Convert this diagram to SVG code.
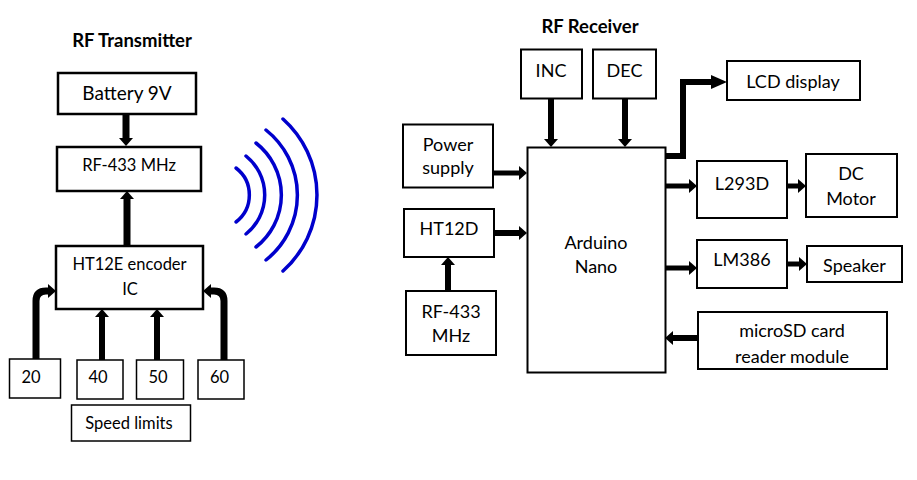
<svg xmlns="http://www.w3.org/2000/svg" width="917" height="480" viewBox="0 0 917 480">
<defs>
<marker id="ah" markerUnits="userSpaceOnUse" viewBox="0 0 8 14" markerWidth="8" markerHeight="14" refX="0" refY="7" orient="auto">
<path d="M0,0 L8,7 L0,14 z" fill="#000"/>
</marker>
<marker id="ahL" markerUnits="userSpaceOnUse" viewBox="0 0 16 14" markerWidth="16" markerHeight="14" refX="0" refY="7" orient="auto">
<path d="M0,0 L16,7 L0,14 z" fill="#000"/>
</marker>
<style>
.box{fill:#fff;stroke:#000;stroke-width:2}
.thin{fill:#fff;stroke:#000;stroke-width:1.5}
.t{font-family:Lato,"Liberation Sans",sans-serif;font-size:18px;fill:#000;text-anchor:middle}
.s{font-family:Lato,"Liberation Sans",sans-serif;font-size:16.5px;fill:#000;text-anchor:middle}
.title{font-family:Lato,"Liberation Sans",sans-serif;font-size:18.5px;font-weight:bold;fill:#000;text-anchor:middle}
.c{fill:none;stroke:#000;stroke-width:6;marker-end:url(#ah)}
.c7{fill:none;stroke:#000;stroke-width:7;marker-end:url(#ah)}
.c5{fill:none;stroke:#000;stroke-width:5;marker-end:url(#ah)}
.wave{fill:none;stroke:#0000cc;stroke-width:3.5;stroke-linecap:round}
</style>
</defs>
<rect width="917" height="480" fill="#fff"/>

<text class="title" x="132" y="47">RF Transmitter</text>
<text class="title" x="590" y="33">RF Receiver</text>

<g id="connectors">
<path class="c7" d="M126,114 V138"/>
<path class="c7" d="M127,246 V199"/>
<path class="c7" d="M36,359 V301 Q36,291 46,291 H48"/>
<path class="c" d="M102,360 V317"/>
<path class="c" d="M157,360 V317"/>
<path class="c7" d="M224,360 V301 Q224,291 214,291 H211"/>
<path class="c" d="M551,98 V139"/>
<path class="c" d="M625,98 V139"/>
<path class="c5" d="M493,173 H519"/>
<path class="c" d="M494,233 H519"/>
<path class="c" d="M448,291 V265"/>
<path fill="none" stroke="#000" stroke-width="6" marker-end="url(#ahL)" d="M665,156 H683 V82 H711"/>
<path class="c5" d="M665,186 H689"/>
<path class="c5" d="M787,186 H798"/>
<path class="c5" d="M665,268 H689"/>
<path class="c5" d="M787,264 H799"/>
<path class="c" d="M698,338 H673"/>
</g>

<g id="waves">
<path class="wave" d="M236,168 A34,34 0 0 1 236,222"/>
<path class="wave" d="M246,156 A50,50 0 0 1 246,234"/>
<path class="wave" d="M256,143 A66,66 0 0 1 256,247"/>
<path class="wave" d="M266,130 A83,83 0 0 1 266,260"/>
<path class="wave" d="M283,119 A102,102 0 0 1 283,271"/>
</g>

<g id="battery"><rect class="box" x="58" y="73" width="138" height="41" style="stroke-width:2.5"/><text class="t" x="127" y="100" style="font-size:19px">Battery 9V</text></g>
<g id="rf-tx"><rect class="box" x="57" y="147" width="144" height="44" style="stroke-width:2.5"/><text class="s" x="129" y="171">RF-433 MHz</text></g>
<g id="ht12e"><rect class="box" x="56" y="246" width="147" height="63" style="stroke-width:2.5"/><text class="s" x="129.5" y="270">HT12E encoder</text><text class="s" x="130" y="295">IC</text></g>
<g id="s20"><rect class="thin" x="9.5" y="359" width="51" height="39"/><text class="s" x="31" y="383">20</text></g>
<g id="s40"><rect class="thin" x="77" y="360" width="46" height="39"/><text class="s" x="98" y="383">40</text></g>
<g id="s50"><rect class="thin" x="136.5" y="360" width="47" height="39"/><text class="s" x="158" y="383">50</text></g>
<g id="s60"><rect class="thin" x="198" y="360" width="46" height="39"/><text class="s" x="219.5" y="383">60</text></g>
<g id="speed"><rect class="thin" x="71.5" y="405" width="119" height="36"/><text class="s" x="129" y="429">Speed limits</text></g>

<g id="inc"><rect class="box" x="521" y="49.5" width="61" height="49"/><text class="t" x="551" y="77">INC</text></g>
<g id="dec"><rect class="box" x="593" y="49.5" width="63" height="49"/><text class="t" x="624.5" y="77">DEC</text></g>
<g id="power"><rect class="box" x="403" y="124.5" width="90" height="63"/><text class="t" x="448" y="151">Power</text><text class="t" x="448" y="174">supply</text></g>
<g id="ht12d"><rect class="box" x="404" y="209" width="90" height="48"/><text class="t" x="449" y="235">HT12D</text></g>
<g id="rf-rx"><rect class="box" x="406" y="291" width="90" height="64"/><text class="t" x="451" y="318">RF-433</text><text class="t" x="451" y="342">MHz</text></g>
<g id="arduino"><rect class="box" x="527.5" y="147.5" width="138" height="225"/><text class="t" x="596" y="249">Arduino</text><text class="t" x="596" y="273">Nano</text></g>
<g id="lcd"><rect class="box" x="727" y="61" width="133" height="39"/><text class="t" x="793" y="88">LCD display</text></g>
<g id="l293d"><rect class="box" x="697" y="161" width="90" height="57"/><text class="t" x="742" y="190">L293D</text></g>
<g id="dc"><rect class="box" x="806" y="154" width="91" height="63"/><text class="t" x="851" y="180">DC</text><text class="t" x="851" y="205">Motor</text></g>
<g id="lm386"><rect class="box" x="697" y="240" width="90" height="48"/><text class="t" x="742" y="266">LM386</text></g>
<g id="speaker"><rect class="box" x="807" y="246" width="95" height="36"/><text class="t" x="854.5" y="272">Speaker</text></g>
<g id="microsd"><rect class="box" x="698" y="312" width="189" height="57"/><text class="t" x="792" y="337">microSD card</text><text class="t" x="792" y="363">reader module</text></g>
</svg>
